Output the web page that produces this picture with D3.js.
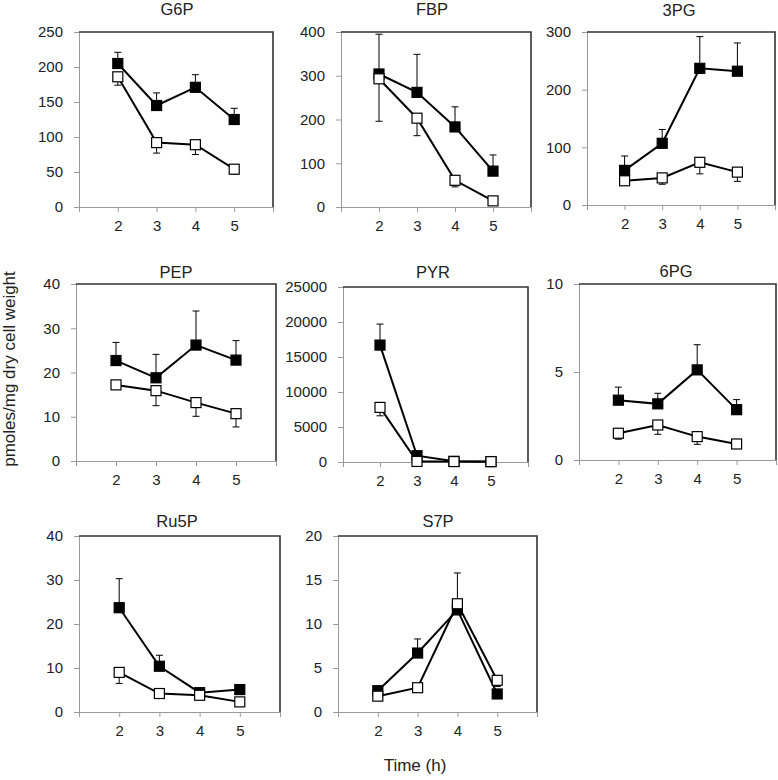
<!DOCTYPE html>
<html><head><meta charset="utf-8">
<script src="https://cdn.jsdelivr.net/npm/d3@7"></script>
<style>body{margin:0;background:#fff}svg{display:block}</style>
</head><body>
<svg id="chart" width="778" height="780"></svg>
<script>
// ---- data ----
const metabolites = ["G6P", "FBP", "3PG", "PEP", "PYR", "6PG", "Ru5P", "S7P"];
const times = [2, 3, 4, 5];
const xTickValues = [1, 2, 3, 4, 5, 6];
const xTickLabels = [2, 3, 4, 5];
const yMax = [250, 400, 300, 40, 25000, 10, 40, 20];
const yTickStep = [50, 100, 100, 10, 5000, 5, 10, 5];
// filled squares (upper error bars)
const filledValues = [
  [205, 145, 171, 125],
  [304, 262, 183, 82],
  [60, 107, 237, 232],
  [22.7, 18.8, 26.2, 22.8],
  [16700, 900, 100, 60],
  [3.40, 3.19, 5.12, 2.86],
  [23.7, 10.4, 4.4, 5.1],
  [2.42, 6.7, 11.6, 2.05]
];
const filledErrors = [
  [16, 18, 18, 16],
  [91, 87, 46, 37],
  [25, 24, 55, 49],
  [4.1, 5.3, 7.7, 4.4],
  [3000, 0, 0, 0],
  [0.74, 0.60, 1.43, 0.57],
  [6.6, 2.5, 0.3, 0.3],
  [0.3, 1.6, 4.2, 0.3]
];
// open squares (lower error bars)
const openValues = [
  [186, 92, 89, 54],
  [293, 203, 61, 14],
  [42, 47, 74, 57],
  [17.2, 15.9, 13.2, 10.7],
  [7800, 80, 60, 50],
  [1.52, 1.99, 1.33, 0.91],
  [9.0, 4.2, 3.8, 2.3],
  [1.8, 2.76, 12.3, 3.6]
];
const openErrors = [
  [12, 15, 14, 7],
  [97, 40, 15, 0],
  [3, 11, 20, 16],
  [0.5, 3.4, 3.1, 3.0],
  [1200, 0, 0, 0],
  [0.34, 0.53, 0.44, 0.05],
  [2.5, 0.3, 0.3, 0.3],
  [0.2, 0.2, 0.5, 0.7]
];
const yLabel = "pmoles/mg dry cell weight";
const xLabel = "Time (h)";

// ---- layout (pixel geometry of each panel) ----
const layout = [
  {l: 79, r: 273, t: 32, b: 207, ty: 15, tx: 177},
  {l: 341, r: 531, t: 32, b: 207, ty: 15, tx: 432},
  {l: 587, r: 775, t: 32, b: 205, ty: 16, tx: 679},
  {l: 76, r: 276, t: 284, b: 461, ty: 278, tx: 176},
  {l: 343, r: 528, t: 287, b: 462, ty: 278, tx: 433},
  {l: 579, r: 776, t: 284, b: 460, ty: 277, tx: 676},
  {l: 79, r: 280, t: 536, b: 712, ty: 527, tx: 177},
  {l: 338, r: 537, t: 536, b: 712, ty: 527, tx: 438}
];

const FONT = "'Liberation Sans', Arial, sans-serif";
const svg = d3.select("#chart").style("font-family", FONT);

metabolites.forEach((name, i) => {
  const L = layout[i];
  const x = d3.scaleLinear().domain([1, 6]).range([L.l, L.r]);
  const y = d3.scaleLinear().domain([0, yMax[i]]).range([L.b, L.t]);
  const g = svg.append("g");

  // y axis
  const yTicks = d3.range(0, yMax[i] + yTickStep[i] / 2, yTickStep[i]);
  const ya = g.append("g").attr("transform", `translate(${L.l},0)`)
    .call(d3.axisLeft(y).tickValues(yTicks).tickSize(5).tickSizeOuter(0).tickPadding(11).tickFormat(d3.format("d")));
  // x axis
  const xa = g.append("g").attr("transform", `translate(0,${L.b})`)
    .call(d3.axisBottom(x).tickValues(xTickValues).tickSize(5).tickSizeOuter(0).tickPadding(8)
      .tickFormat(d => xTickLabels.includes(d) ? String(d) : ""));
  [ya, xa].forEach(a => {
    a.select(".domain").attr("stroke", "#9a9a9a").attr("stroke-width", 1);
    a.selectAll(".tick line").attr("stroke", "#9a9a9a");
    a.selectAll(".tick text").attr("fill", "#222").style("font-size", "15px").style("font-family", FONT);
  });

  // top & right border
  g.append("path").attr("d", `M${L.l},${L.t}H${L.r}V${L.b}`)
    .attr("fill", "none").attr("stroke", "#333").attr("stroke-width", 1.6);

  // title
  g.append("text").attr("x", L.tx).attr("y", L.ty).attr("text-anchor", "middle")
    .style("font-size", "16.5px").attr("fill", "#222").text(name);

  const line = d3.line().x(d => x(d.t)).y(d => y(d.v));

  const series = [
    {vals: filledValues[i], errs: filledErrors[i], dir: 1, fill: "#000"},
    {vals: openValues[i], errs: openErrors[i], dir: -1, fill: "#fff"}
  ];
  series.forEach(s => {
    const pts = times.map((t, k) => ({t, v: s.vals[k], e: s.errs[k]}));
    // error bars
    const eb = g.append("g").attr("stroke", "#000").attr("stroke-width", 1);
    pts.filter(p => p.e > 0).forEach(p => {
      const x0 = x(p.t), y0 = y(p.v), y1 = y(p.v + s.dir * p.e);
      eb.append("line").attr("x1", x0).attr("x2", x0).attr("y1", y0).attr("y2", y1);
      eb.append("line").attr("x1", x0 - 3.5).attr("x2", x0 + 3.5).attr("y1", y1).attr("y2", y1);
    });
    g.append("path").datum(pts).attr("d", line)
      .attr("fill", "none").attr("stroke", "#000").attr("stroke-width", 2);
    g.selectAll(null).data(pts).enter().append("rect")
      .attr("x", d => x(d.t) - 5).attr("y", d => y(d.v) - 5)
      .attr("width", 10).attr("height", 10)
      .attr("fill", s.fill).attr("stroke", "#000").attr("stroke-width", 1.2);
  });
});

// axis labels
svg.append("text").attr("transform", "translate(15,369) rotate(-90)")
  .attr("text-anchor", "middle").style("font-size", "17px").attr("fill", "#222").text(yLabel);
svg.append("text").attr("x", 415).attr("y", 771).attr("text-anchor", "middle")
  .style("font-size", "17px").attr("fill", "#222").text(xLabel);
</script>
</body></html>
